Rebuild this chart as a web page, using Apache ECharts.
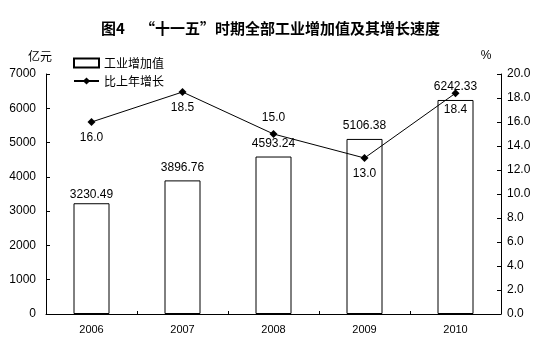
<!DOCTYPE html>
<html>
<head>
<meta charset="utf-8">
<script src="https://cdn.jsdelivr.net/npm/echarts@6/dist/echarts.min.js"></script>
<style>
  html, body { margin: 0; padding: 0; background: #fff; }
  #chart { width: 541px; height: 345px; }
</style>
</head>
<body>
<div id="chart"></div>
<script>
// Years of the 11th Five-Year Plan
const years = ['2006', '2007', '2008', '2009', '2010'];
// Industrial value added (100 million yuan)
const valueAdded = [3230.49, 3896.76, 4593.24, 5106.38, 6242.33];
// Growth over previous year (%)
const growth = [16.0, 18.5, 15.0, 13.0, 18.4];
// Where each growth label sits relative to its point
const growthLabelPos = ['bottom', 'bottom', 'top', 'bottom', 'bottom'];
// Left and right axis ticks
const leftTicks = [0, 1000, 2000, 3000, 4000, 5000, 6000, 7000];
const rightTicks = [0, 2, 4, 6, 8, 10, 12, 14, 16, 18, 20];

const numFont = 'Liberation Sans, Arial, sans-serif';
const cjkFont = '"Noto Sans CJK SC", sans-serif';

const chart = echarts.init(document.getElementById('chart'), null, { renderer: 'canvas' });

chart.setOption({
  animation: false,
  backgroundColor: '#fff',
  title: {
    text: '图4　“十一五”时期全部工业增加值及其增长速度',
    left: 'center',
    top: 16,
    textStyle: { fontFamily: cjkFont, fontSize: 15, fontWeight: 'bold', color: '#000' }
  },
  legend: {
    orient: 'vertical',
    left: 68,
    top: 52,
    itemGap: 6,
    itemWidth: 25,
    itemHeight: 9,
    textStyle: { fontFamily: cjkFont, fontSize: 12, color: '#000' },
    data: [
      { name: '工业增加值', icon: 'rect' },
      { name: '比上年增长' }
    ]
  },
  grid: { left: 46, right: 40, top: 74, bottom: 31 },
  xAxis: {
    type: 'category',
    data: years,
    axisLine: { lineStyle: { color: '#000', width: 1 } },
    axisTick: { show: true, inside: true, length: 3, lineStyle: { color: '#000' } },
    axisLabel: { fontFamily: numFont, fontSize: 11, color: '#000', margin: 10 }
  },
  yAxis: [
    {
      type: 'value',
      name: '亿元',
      nameGap: 12,
      nameTextStyle: { fontFamily: cjkFont, fontSize: 12, color: '#000', align: 'right', padding: [0, -6, 0, 0] },
      min: leftTicks[0],
      max: leftTicks[leftTicks.length - 1],
      interval: leftTicks[1] - leftTicks[0],
      axisLine: { show: true, lineStyle: { color: '#000' } },
      axisTick: { show: true, inside: true, length: 4, lineStyle: { color: '#000' } },
      axisLabel: { fontFamily: numFont, fontSize: 12, color: '#000', margin: 10,
                   formatter: v => String(v) },
      splitLine: { show: false }
    },
    {
      type: 'value',
      name: '%',
      nameGap: 12,
      nameTextStyle: { fontFamily: numFont, fontSize: 12, color: '#000', padding: [0, 0, 0, -30] },
      min: rightTicks[0],
      max: rightTicks[rightTicks.length - 1],
      interval: rightTicks[1] - rightTicks[0],
      position: 'right',
      axisLine: { show: true, lineStyle: { color: '#000' } },
      axisTick: { show: true, inside: true, length: 4, lineStyle: { color: '#000' } },
      axisLabel: { fontFamily: numFont, fontSize: 12, color: '#000', margin: 6,
                   formatter: v => v.toFixed(1) },
      splitLine: { show: false }
    }
  ],
  series: [
    {
      name: '工业增加值',
      type: 'bar',
      yAxisIndex: 0,
      barWidth: 36,
      data: valueAdded.map((v, i) => ({
        value: v,
        label: { distance: i === 0 ? 3 : 7 }
      })),
      itemStyle: { color: '#fff', borderColor: '#000', borderWidth: 1 },
      label: {
        show: true,
        position: 'top',
        fontFamily: numFont,
        fontSize: 12,
        color: '#000',
        formatter: p => p.value.toFixed(2)
      }
    },
    {
      name: '比上年增长',
      type: 'line',
      yAxisIndex: 1,
      symbol: 'diamond',
      symbolSize: 8,
      z: 5,
      lineStyle: { color: '#000', width: 1 },
      itemStyle: { color: '#000' },
      data: growth.map((v, i) => ({
        value: v,
        label: { position: growthLabelPos[i] }
      })),
      label: {
        show: true,
        distance: 6,
        fontFamily: numFont,
        fontSize: 12,
        color: '#000',
        formatter: p => p.value.toFixed(1)
      }
    }
  ]
});
</script>
</body>
</html>
